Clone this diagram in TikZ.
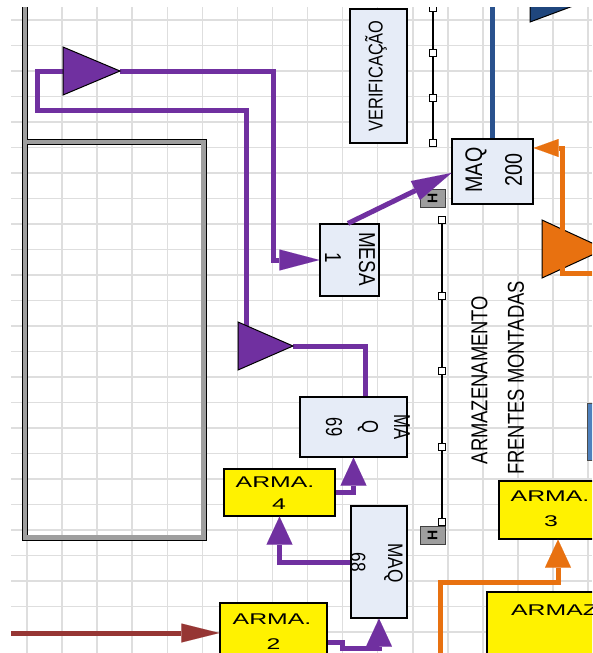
\documentclass[tikz,border=0pt]{standalone}
\usepackage{fontspec}
\setmainfont{Liberation Sans}
\usepackage{graphicx}
\usetikzlibrary{arrows.meta,calc}
\definecolor{purp}{RGB}{112,48,160}
\definecolor{orng}{RGB}{232,113,16}
\definecolor{blin}{RGB}{42,82,142}
\definecolor{btri}{RGB}{31,70,125}
\definecolor{brwn}{RGB}{150,54,52}
\definecolor{boxb}{RGB}{230,236,247}
\definecolor{bluebx}{RGB}{79,129,189}
\definecolor{gridc}{RGB}{222,222,222}
\newcommand{\nrw}[2][0.82]{\scalebox{#1}[1]{#2}}
\newcommand{\wdt}[1]{\scalebox{1.6}[1]{#1}}
\newcommand{\fs}[1]{\fontsize{#1}{#1}\selectfont}
\tikzset{
  gridline/.style={draw=gridc, line width=1.5pt},
  wall/.style={draw=black, line width=0.9pt, double=black!38, double distance=4.2pt},
  rack/.style={draw=black, line width=2.6pt},
  rackpt/.style={draw=black, fill=white, line width=0.8pt, minimum size=7pt, inner sep=0pt},
  hbox/.style={draw=black!75, fill=black!38, line width=1pt, minimum width=25pt, minimum height=18pt, inner sep=0pt},
  bbox/.style={draw=black, fill=boxb, line width=1.2pt, inner sep=0pt},
  ybox/.style={draw=black, fill=yellow, line width=1.2pt, inner sep=0pt},
  rtxt/.style={inner sep=0pt, text=black},
  ytxt/.style={inner sep=0pt, text=black, font=\fs{15.5}},
  pl/.style={draw=purp, line width=5pt, line join=miter},
  ol/.style={draw=orng, line width=5pt, line join=miter},
  bl/.style={draw=blin, line width=5pt},
  brl/.style={draw=brwn, line width=5pt},
  tri/.style={draw=black, line width=1pt, line join=miter},
  longtip/.tip={Triangle[length=40pt,width=21pt,line width=0.01pt]},
  uptip/.tip={Triangle[length=28pt,width=26pt,line width=0.01pt]},
  otip/.tip={Triangle[length=25pt,width=18pt,line width=0.01pt]},
  brtip/.tip={Triangle[length=38pt,width=19pt,line width=0.01pt]},
}
\begin{document}
\begin{tikzpicture}[x=1pt,y=-1pt]
\useasboundingbox (0,0) rectangle (592,653);
\begin{scope}
\clip (11,7) rectangle (592,653);
% grid
\foreach \i in {0,...,16} \draw[gridline] ({27+35.07*\i},7) -- ({27+35.07*\i},653);
\foreach \j in {0,...,24} \draw[gridline] (11,{20+25.5*\j}) -- (592,{20+25.5*\j});
% wall and enclosure
\draw[wall] (25,0) -- (25,537.5) -- (203.5,537.5) -- (203.5,142) -- (25,142);
% racks
\draw[rack] (433,8) -- (433,143);
\foreach \y in {8,53,98,143} \node[rackpt] (ru\y) at (433,\y) {};
\draw[rack] (442,220) -- (442,522);
\foreach \y in {220,296,371,447,522} \node[rackpt] (rl\y) at (442,\y) {};
\node[hbox] (h1) at (432.5,198.5) {\rotatebox{90}{\fs{14}\bfseries H}};
\node[hbox] (h2) at (432.5,535.5) {\rotatebox{90}{\fs{14}\bfseries H}};
% boxes
\node[bbox, minimum width=57pt, minimum height=134pt] (verif) at (378.5,76) {};
\node[bbox, minimum width=81pt, minimum height=65pt] (maq200) at (492.5,171.5) {};
\node[bbox, minimum width=59pt, minimum height=72pt] (mesa) at (349.5,260) {};
\node[bbox, minimum width=107pt, minimum height=60pt] (maq69) at (353.5,427) {};
\node[bbox, minimum width=56pt, minimum height=112pt] (maq68) at (379,562) {};
\node[ybox, minimum width=111pt, minimum height=47pt] (arma4) at (279.5,492.5) {};
\node[ybox, minimum width=107pt, minimum height=60pt] (arma2) at (273.5,633) {};
\node[ybox, minimum width=102pt, minimum height=58pt] (arma3) at (550,510) {};
\node[ybox, minimum width=138pt, minimum height=98pt] (armaz) at (556,641) {};
\node[draw=black!70, fill=bluebx, line width=1pt, minimum width=30pt, minimum height=57pt, inner sep=0pt] (bluebox) at (602,431.5) {};
% coordinates
\coordinate (t1base) at (63,71);
\coordinate (t1tip) at (120,71);
\coordinate (t2in) at (246,332);
\coordinate (t2tip) at (293,346);
\coordinate (btop) at (492.5,0);
\coordinate (ostart) at (600,273);
\coordinate (obot) at (440,660);
\coordinate (brstart) at (0,633);
\coordinate (a2k) at (342,648.5);
% purple connectors
\draw[pl] (t1base) -- (37,71) -- (37,110) -- (246,110) -- (t2in);
\draw[pl, -{longtip}] (t1tip) -- (273,71) -- (273,260) -- (mesa.west);
\draw[pl] (t2tip) -- (365,346) -- ([xshift=11.5pt]maq69.north);
\draw[pl, -{longtip}] ([xshift=-1.5pt]mesa.north) -- ([yshift=-1.5pt]maq200.west);
\draw[pl, -{uptip}] (arma4.east) -- (maq69.south |- arma4.east) -- (maq69.south);
\draw[pl, -{uptip}] (maq68.west) -- (arma4.south |- maq68.west) -- (arma4.south);
\draw[pl, -{uptip}] ([yshift=-9.5pt]arma2.east) -- (342,642.5) -- (a2k) -- (maq68.south |- a2k) -- (maq68.south);
% blue
\draw[bl] (btop) -- (maq200.north);
\fill[btri, draw=black, line width=1pt] (530,-30) -- (530,22) -- (600,-4) -- cycle;
% orange
\fill[orng, tri] (542,220) -- (542,278) -- (605,249) -- cycle;
\draw[ol, -{otip}] (ostart) -- (562,273) -- (562,148) -- ([yshift=23.5pt]maq200.east);
\draw[ol, -{uptip}] (obot) -- (440,582) -- (558,582) -- ([xshift=8pt]arma3.south);
% brown
\draw[brl, -{brtip}] (brstart) -- (arma2.west);
% triangles
\fill[purp, tri] (63,47) -- (63,95) -- (120,71) -- cycle;
\fill[purp, tri] (238,322) -- (238,370) -- (293,346) -- cycle;
% texts
\node[rtxt, rotate=90] (tverif) at (376,76) {\fs{20}\nrw{VERIFICAÇÃO}};
\node[rtxt, rotate=90] (tmaq200a) at (476,170) {\fs{24}\nrw{MAQ}};
\node[rtxt, rotate=90] (tmaq200b) at (513.5,170) {\fs{24}\nrw{200}};
\node[rtxt, rotate=-90] (tmesaa) at (367,259) {\fs{23}\nrw{MESA}};
\node[rtxt, rotate=-90] (tmesab) at (333,258) {\fs{23}\nrw{1}};
\node[rtxt, rotate=-90] (tmaq69a) at (402,427) {\fs{23}\nrw[0.72]{MA}};
\node[rtxt, rotate=-90] (tmaq69b) at (368,427) {\fs{23}\nrw[0.72]{Q}};
\node[rtxt, rotate=-90] (tmaq69c) at (334,427) {\fs{23}\nrw[0.72]{69}};
\node[rtxt, rotate=-90] (tmaq68a) at (393.5,563) {\fs{21}\nrw{MAQ}};
\node[rtxt, rotate=-90] (tmaq68b) at (358,562) {\fs{21}\nrw{68}};
\node[rtxt, rotate=90] (tarmaz1) at (479.5,380) {\fs{23}\nrw[0.8]{ARMAZENAMENTO}};
\node[rtxt, rotate=90] (tarmaz2) at (516,378) {\fs{23}\nrw[0.8]{FRENTES MONTADAS}};
\node[ytxt] (ta4a) at (275,482) {\wdt{ARMA.}};
\node[ytxt] (ta4b) at (279,504.5) {\wdt{4}};
\node[ytxt] (ta2a) at (272,619) {\wdt{ARMA.}};
\node[ytxt] (ta2b) at (273.5,644) {\wdt{2}};
\node[ytxt] (ta3a) at (550,496) {\wdt{ARMA.}};
\node[ytxt] (ta3b) at (551,521.5) {\wdt{3}};
\node[ytxt, anchor=west] (tazz) at (511,610) {\wdt{ARMAZ}};
\end{scope}
\end{tikzpicture}
\end{document}
